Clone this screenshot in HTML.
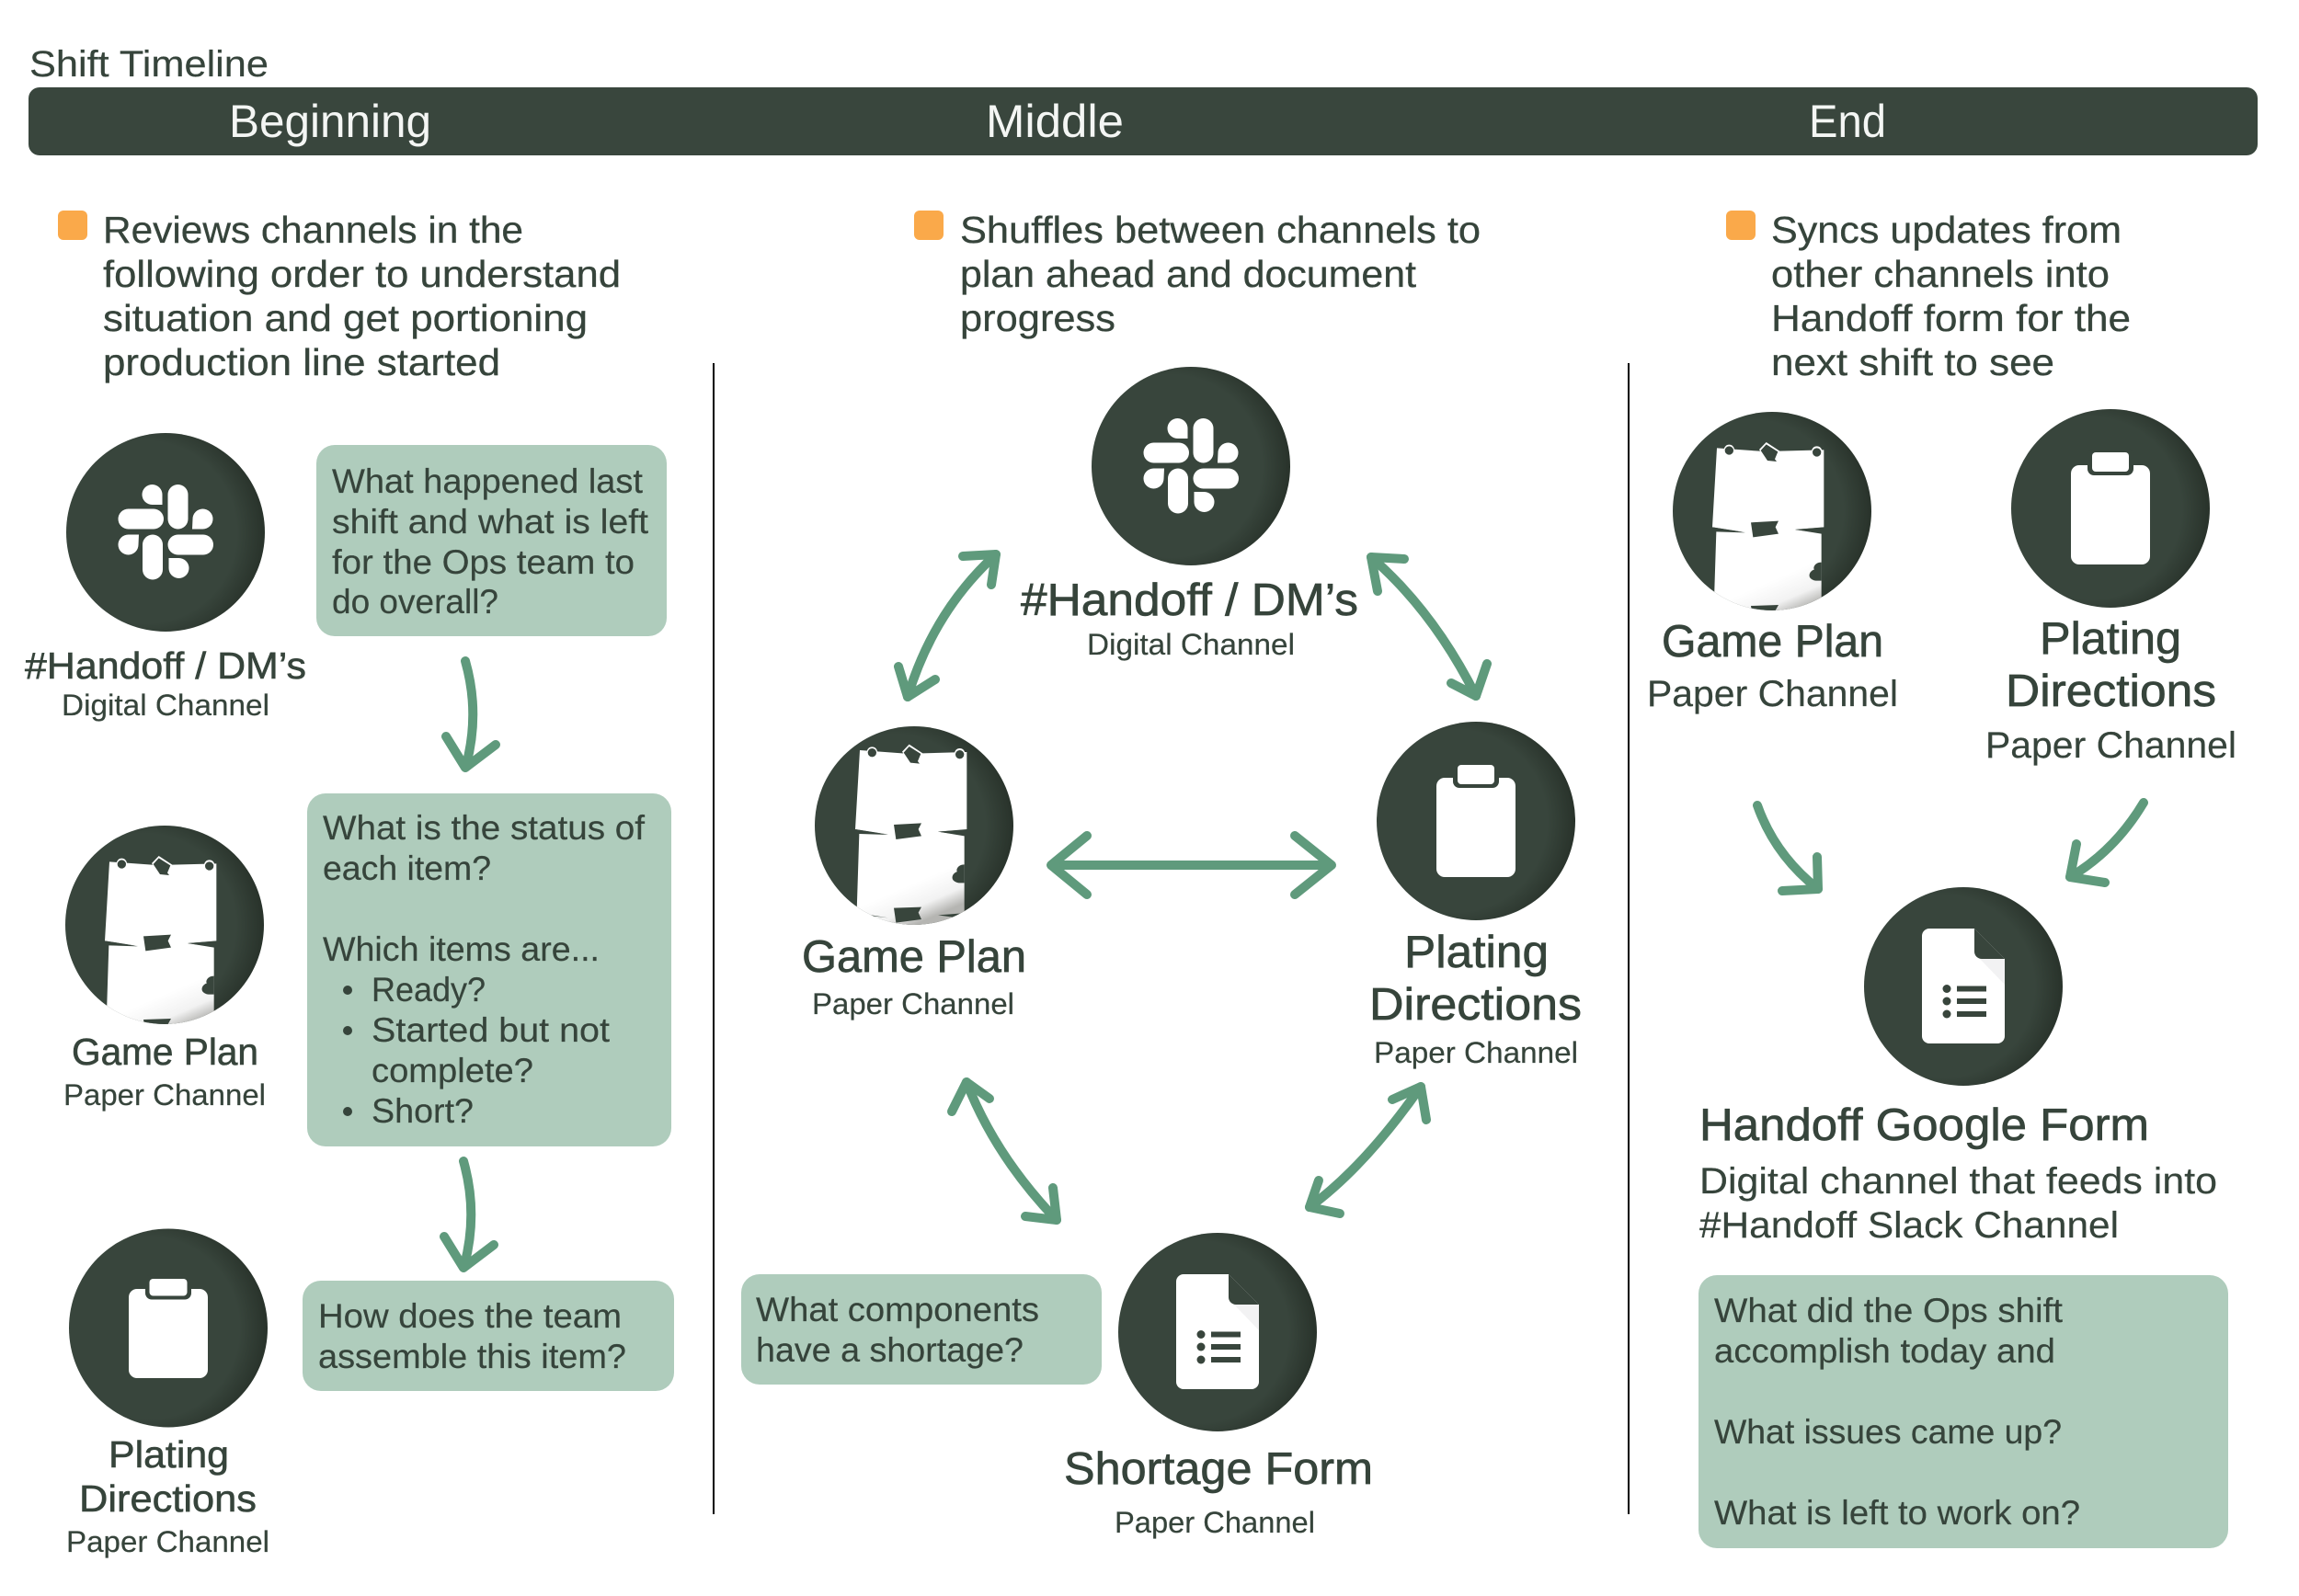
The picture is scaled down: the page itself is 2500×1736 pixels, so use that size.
<!DOCTYPE html>
<html><head><meta charset="utf-8"><title>Shift Timeline</title>
<style>
html,body{margin:0;padding:0;background:#fff}
svg{display:block}
text{font-family:"Liberation Sans",sans-serif;fill:#36443B}
.b{font-size:41px;stroke:#36443B;stroke-width:.3px}.q{font-size:37.5px;stroke:#36443B;stroke-width:.2px}.s{font-size:32.5px;stroke:#36443B;stroke-width:.2px}.m{font-size:40px;stroke:#36443B;stroke-width:.2px}
.t{font-size:41px;stroke:#36443B;stroke-width:.6px}.T{font-size:49px;stroke:#36443B;stroke-width:.7px}
.h{font-size:50px;fill:#f4f6f4}
.a path{fill:none;stroke:#5F9A7C;stroke-width:10;stroke-linecap:round;stroke-linejoin:round}
</style></head><body>
<svg xmlns="http://www.w3.org/2000/svg" width="2500" height="1736" viewBox="0 0 2500 1736">
<defs>
<radialGradient id="c" cx=".4" cy=".5" r=".62"><stop offset=".74" stop-color="#38453C"/><stop offset=".96" stop-color="#29332B"/><stop offset="1" stop-color="#29332B"/></radialGradient>
<linearGradient id="sheet" gradientUnits="userSpaceOnUse" x1="420" y1="590" x2="470" y2="705"><stop offset="0" stop-color="#fff"/><stop offset=".6" stop-color="#f2f2f2"/><stop offset="1" stop-color="#b5b5b2"/></linearGradient>
<clipPath id="cc"><circle r="108"/></clipPath>
<g id="paper">
<path d="M207 172L345 182 412 182 556 178V430L462 438 548 452V760H195L205 445 300 448 192 430z" fill="url(#sheet)"/>
<path d="M192 430L300 447 205 436z" fill="#38453C"/>
<path d="M462 438L556 431 548 450z" fill="#38453C"/>
<circle cx="247" cy="178" r="17" fill="#fff"/><circle cx="247" cy="180" r="14" fill="#38453C"/>
<circle cx="533" cy="183" r="17" fill="#fff"/><circle cx="533" cy="186" r="14" fill="#38453C"/>
<path d="M345 177L368 153 412 182 400 208 411 219 372 215z" fill="#fff"/>
<path d="M350 180L368 160 406 184 396 208 402 216 372 213z" fill="#38453C"/>
<path d="M318 415L408 410 398 430 408 452 325 463z" fill="#38453C"/>
<path d="M548 545C525 545 520 565 525 568 505 575 500 600 530 605H548z" fill="#38453C"/>
<path d="M192 702L300 719 205 708z" fill="#38453C"/>
<path d="M462 710L556 703 548 722z" fill="#38453C"/>
<path d="M318 687L408 684 398 702 408 724 325 735z" fill="#38453C"/>
</g>
<g id="slack">
<circle r="108" fill="url(#c)"/>
<g fill="#fff">
<rect x="2.5" y="-52" width="22" height="48.5" rx="11"/>
<rect x="-51.5" y="-25.5" width="49.5" height="22" rx="11"/>
<rect x="2.5" y="2.5" width="49.5" height="22" rx="11"/>
<rect x="-25" y="2.5" width="22" height="49" rx="11"/>
<path d="M-3.5-30V-41a11 11 0 1 0-11 11z"/>
<path d="M29-3.5H40.5a11 11 0 1 0-11-11z"/>
<path d="M-29 2.5H-40.5a11 11 0 1 0 11 11z"/>
<path d="M3.5 28V39a11 11 0 1 0 11-11z"/>
</g></g>
<g id="clip">
<circle r="108" fill="url(#c)"/>
<rect x="-43" y="-47" width="86" height="108" rx="9" fill="#fff"/>
<rect x="-25" y="-65" width="50" height="29" rx="7" fill="#38453C"/>
<rect x="-20" y="-61" width="40" height="21" rx="4" fill="#fff"/>
</g>
<g id="clipS">
<circle r="108" fill="url(#c)"/>
<rect x="-43" y="-42.5" width="86" height="97" rx="9" fill="#fff"/>
<rect x="-25" y="-58" width="50" height="27" rx="7" fill="#38453C"/>
<rect x="-20.5" y="-53.5" width="41" height="18.5" rx="4" fill="#fff"/>
</g>
<g id="form">
<circle r="108" fill="url(#c)"/>
<path d="M-37-63H12L45-30V54a8 8 0 0 1-8 8H-37a8 8 0 0 1-8-8V-55a8 8 0 0 1 8-8z" fill="#fff"/>
<path d="M18-30H45V-2z" fill="#f2f2f3"/>
<path d="M12-63L45-30H20a8 8 0 0 1-8-8z" fill="#38453C"/>
<g fill="#38453C"><circle cx="-18" cy="2.5" r="4.5"/><circle cx="-18" cy="16" r="4.5"/><circle cx="-18" cy="30" r="4.5"/>
<rect x="-7" y="-.5" width="32" height="6"/><rect x="-7" y="13" width="32" height="6"/><rect x="-7" y="27" width="32" height="6"/></g>
</g>
<g id="game">
<circle r="108" fill="url(#c)"/>
<g clip-path="url(#cc)"><use href="#paper" transform="scale(.3333) translate(-387 -378)"/></g>
</g>
<g id="game2">
<circle r="108" fill="url(#c)"/>
<g clip-path="url(#cc)"><use href="#paper" transform="scale(.3333) translate(-384 -418)"/></g>
</g>
</defs>

<rect width="2500" height="1736" fill="#fff"/>
<text class="m" x="32" y="83" font-size="42" textLength="260" lengthAdjust="spacingAndGlyphs">Shift Timeline</text>
<rect x="31" y="95" width="2424" height="74" rx="12" fill="#39463D"/>
<text class="h" x="249" y="149" textLength="220" lengthAdjust="spacingAndGlyphs">Beginning</text>
<text class="h" x="1072" y="149" textLength="150" lengthAdjust="spacingAndGlyphs">Middle</text>
<text class="h" x="1967" y="149" textLength="84" lengthAdjust="spacingAndGlyphs">End</text>

<g fill="#FAA94A"><rect x="63" y="229" width="32" height="32" rx="6"/><rect x="994" y="229" width="32" height="32" rx="6"/><rect x="1877" y="229" width="32" height="32" rx="6"/></g>

<text class="b" x="112" y="264" textLength="457" lengthAdjust="spacingAndGlyphs">Reviews channels in the</text>
<text class="b" x="112" y="312" textLength="563" lengthAdjust="spacingAndGlyphs">following order to understand</text>
<text class="b" x="112" y="360" textLength="527" lengthAdjust="spacingAndGlyphs">situation and get portioning</text>
<text class="b" x="112" y="408" textLength="432" lengthAdjust="spacingAndGlyphs">production line started</text>
<text class="b" x="1044" y="264" textLength="566" lengthAdjust="spacingAndGlyphs">Shuffles between channels to</text>
<text class="b" x="1044" y="312" textLength="496" lengthAdjust="spacingAndGlyphs">plan ahead and document</text>
<text class="b" x="1044" y="360" textLength="169" lengthAdjust="spacingAndGlyphs">progress</text>
<text class="b" x="1926" y="264" textLength="381" lengthAdjust="spacingAndGlyphs">Syncs updates from</text>
<text class="b" x="1926" y="312" textLength="368" lengthAdjust="spacingAndGlyphs">other channels into</text>
<text class="b" x="1926" y="360" textLength="391" lengthAdjust="spacingAndGlyphs">Handoff form for the</text>
<text class="b" x="1926" y="408" textLength="308" lengthAdjust="spacingAndGlyphs">next shift to see</text>

<line x1="776" y1="395" x2="776" y2="1647" stroke="#000" stroke-width="2"/>
<line x1="1771" y1="395" x2="1771" y2="1647" stroke="#000" stroke-width="2"/>

<g fill="#AFCCBC">
<rect x="344" y="484" width="381" height="208" rx="20"/>
<rect x="334" y="863" width="396" height="384" rx="20"/>
<rect x="329" y="1393" width="404" height="120" rx="20"/>
<rect x="806" y="1386" width="392" height="120" rx="20"/>
<rect x="1847" y="1387" width="576" height="297" rx="20"/>
</g>

<use href="#slack" x="180" y="579"/>
<use href="#game" x="179" y="1006"/>
<use href="#clipS" x="183" y="1444.5"/>
<use href="#slack" x="1295" y="507"/>
<use href="#game2" x="994" y="898"/>
<use href="#clip" x="1605" y="893"/>
<use href="#form" x="1324" y="1449"/>
<use href="#game" x="1927" y="556"/>
<use href="#clip" x="2295" y="553"/>
<use href="#form" x="2135" y="1073"/>

<!-- box text -->
<text class="q" x="361" y="536" textLength="338" lengthAdjust="spacingAndGlyphs">What happened last</text>
<text class="q" x="361" y="580" textLength="344" lengthAdjust="spacingAndGlyphs">shift and what is left</text>
<text class="q" x="361" y="624" textLength="329" lengthAdjust="spacingAndGlyphs">for the Ops team to</text>
<text class="q" x="361" y="667" textLength="181" lengthAdjust="spacingAndGlyphs">do overall?</text>

<text class="q" x="351" y="913" textLength="350" lengthAdjust="spacingAndGlyphs">What is the status of</text>
<text class="q" x="351" y="957" textLength="183" lengthAdjust="spacingAndGlyphs">each item?</text>
<text class="q" x="351" y="1045" textLength="301" lengthAdjust="spacingAndGlyphs">Which items are...</text>
<circle cx="378" cy="1077" r="5" fill="#36443B"/>
<circle cx="378" cy="1121" r="5" fill="#36443B"/>
<circle cx="378" cy="1209" r="5" fill="#36443B"/>
<text class="q" x="404" y="1089" textLength="124" lengthAdjust="spacingAndGlyphs">Ready?</text>
<text class="q" x="404" y="1133" textLength="259" lengthAdjust="spacingAndGlyphs">Started but not</text>
<text class="q" x="404" y="1177" textLength="176" lengthAdjust="spacingAndGlyphs">complete?</text>
<text class="q" x="404" y="1221" textLength="111" lengthAdjust="spacingAndGlyphs">Short?</text>

<text class="q" x="346" y="1444" textLength="330" lengthAdjust="spacingAndGlyphs">How does the team</text>
<text class="q" x="346" y="1488" textLength="335" lengthAdjust="spacingAndGlyphs">assemble this item?</text>

<text class="q" x="822" y="1437" textLength="308" lengthAdjust="spacingAndGlyphs">What components</text>
<text class="q" x="822" y="1481" textLength="291" lengthAdjust="spacingAndGlyphs">have a shortage?</text>

<text class="q" x="1864" y="1438" textLength="379" lengthAdjust="spacingAndGlyphs">What did the Ops shift</text>
<text class="q" x="1864" y="1482" textLength="371" lengthAdjust="spacingAndGlyphs">accomplish today and</text>
<text class="q" x="1864" y="1570" textLength="378" lengthAdjust="spacingAndGlyphs">What issues came up?</text>
<text class="q" x="1864" y="1658" textLength="398" lengthAdjust="spacingAndGlyphs">What is left to work on?</text>

<!-- labels left -->
<text class="t" x="27" y="738" textLength="306" lengthAdjust="spacingAndGlyphs">#Handoff / DM’s</text>
<text class="s" x="67" y="778" textLength="226" lengthAdjust="spacingAndGlyphs">Digital Channel</text>
<text class="t" x="78" y="1158" textLength="203" lengthAdjust="spacingAndGlyphs">Game Plan</text>
<text class="s" x="69" y="1202" textLength="220" lengthAdjust="spacingAndGlyphs">Paper Channel</text>
<text class="t" x="118" y="1596" textLength="131" lengthAdjust="spacingAndGlyphs">Plating</text>
<text class="t" x="86" y="1644" textLength="193" lengthAdjust="spacingAndGlyphs">Directions</text>
<text class="s" x="72" y="1688" textLength="221" lengthAdjust="spacingAndGlyphs">Paper Channel</text>

<!-- labels middle -->
<text class="T" x="1110" y="669" textLength="367" lengthAdjust="spacingAndGlyphs">#Handoff / DM’s</text>
<text class="s" x="1182" y="712" textLength="226" lengthAdjust="spacingAndGlyphs">Digital Channel</text>
<text class="T" x="872" y="1057" textLength="244" lengthAdjust="spacingAndGlyphs">Game Plan</text>
<text class="s" x="883" y="1103" textLength="220" lengthAdjust="spacingAndGlyphs">Paper Channel</text>
<text class="T" x="1527" y="1052" textLength="157" lengthAdjust="spacingAndGlyphs">Plating</text>
<text class="T" x="1489" y="1109" textLength="231" lengthAdjust="spacingAndGlyphs">Directions</text>
<text class="s" x="1494" y="1156" textLength="222" lengthAdjust="spacingAndGlyphs">Paper Channel</text>
<text class="T" x="1157" y="1614" textLength="336" lengthAdjust="spacingAndGlyphs">Shortage Form</text>
<text class="s" x="1212" y="1667" textLength="218" lengthAdjust="spacingAndGlyphs">Paper Channel</text>

<!-- labels right -->
<text class="T" x="1807" y="714" textLength="241" lengthAdjust="spacingAndGlyphs">Game Plan</text>
<text class="m" x="1791" y="768" textLength="273" lengthAdjust="spacingAndGlyphs">Paper Channel</text>
<text class="T" x="2218" y="711" textLength="154" lengthAdjust="spacingAndGlyphs">Plating</text>
<text class="T" x="2181" y="768" textLength="229" lengthAdjust="spacingAndGlyphs">Directions</text>
<text class="m" x="2159" y="824" textLength="273" lengthAdjust="spacingAndGlyphs">Paper Channel</text>
<text class="T" x="1848" y="1240" textLength="489" lengthAdjust="spacingAndGlyphs">Handoff Google Form</text>
<text class="m" x="1848" y="1298" textLength="563" lengthAdjust="spacingAndGlyphs">Digital channel that feeds into</text>
<text class="m" x="1848" y="1346" textLength="456" lengthAdjust="spacingAndGlyphs">#Handoff Slack Channel</text>

<!-- arrows -->
<g class="a">
<path d="M506 719Q522 775 507 832"/><path d="M485 801L506 835 539 810"/>
<g transform="translate(-2 544)"><path d="M506 719Q522 775 507 832"/><path d="M485 801L506 835 539 810"/></g>

<path d="M1083 603Q1015 665 987 758"/>
<path d="M1047 605L1083 603 1078 636"/><path d="M977 725L987 758 1017 739"/>

<path d="M1491 606Q1559 665 1605 757"/>
<path d="M1527 608L1491 606 1498 643"/><path d="M1617 722L1605 757 1578 743"/>

<path d="M1144 941H1447"/>
<path d="M1182 909L1143 941 1182 973"/><path d="M1408 909L1448 941 1408 973"/>

<path d="M1051 1177Q1082 1257 1149 1327"/>
<path d="M1076 1195L1051 1177 1035 1209"/><path d="M1145 1292L1149 1327 1115 1323"/>

<path d="M1545 1182Q1484 1269 1424 1313"/>
<path d="M1514 1196L1545 1182 1551 1218"/><path d="M1434 1284L1424 1313 1457 1320"/>

<path d="M1911 876Q1930 930 1977 967"/>
<path d="M1976 932L1977 967 1938 969"/>

<path d="M2331 873Q2300 925 2251 954"/>
<path d="M2258 918L2251 954 2289 960"/>
</g>
</svg>
</body></html>
